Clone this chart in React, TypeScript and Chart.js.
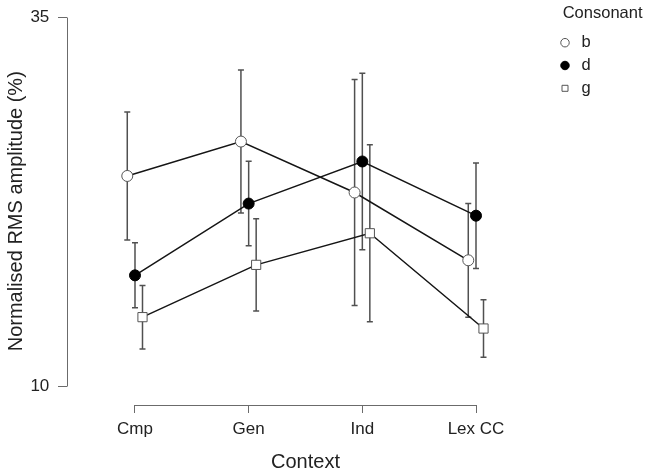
import React, { useEffect, useRef } from 'react';
import { Chart, registerables } from 'chart.js';

Chart.register(...registerables);

// ---- data ----
const categories = ['Cmp', 'Gen', 'Ind', 'Lex CC'];
const seriesLabels = ['b', 'd', 'g'];
const bMeans = [24.27, 26.6, 23.15, 18.56];
const bErrors = [4.33, 4.84, 7.65, 3.85];
const dMeans = [17.54, 22.4, 25.25, 21.58];
const dErrors = [2.2, 2.86, 5.98, 3.57];
const gMeans = [14.71, 18.25, 20.39, 13.94];
const gErrors = [2.15, 3.13, 5.99, 1.94];
const yTickValues = [10, 35];

const means = [bMeans, dMeans, gMeans];
const errors = [bErrors, dErrors, gErrors];

// ---- layout / style ----
const dodge = [-0.068, 0, 0.066];
const X_MIN = 0.4018;
const X_MAX = 4.5982;
const Y_MIN = 8.761;
const Y_MAX = 35;
const LEGEND_W = 117.2;
const FONT = "'Liberation Sans', Arial, sans-serif";
const TEXT = '#222222';
const AXIS = '#6b6b6b';
const ERR = '#505050';
const LINE = '#151515';

const pointStyles = ['circle', 'circle', 'rect'];
const pointFills = ['#ffffff', '#000000', '#ffffff'];
const pointBorders = ['#555555', '#000000', '#555555'];
const pointRadii = [5.5, 5.5, 6.5];

const align = (p: number) => Math.round(p - 0.5) + 0.5;

const legendWidthPlugin = {
  id: 'legendWidthPlugin',
  beforeLayout(chart: any) {
    const lg = chart.legend;
    if (lg && !lg.__fixedWidth) {
      const orig = lg.fit;
      lg.fit = function (this: any) {
        orig.call(this);
        this.width = LEGEND_W;
      };
      lg.__fixedWidth = true;
    }
  },
};

const rAxesAndErrorBars = {
  id: 'rAxesAndErrorBars',
  beforeDatasetsDraw(chart: any) {
    const { ctx, chartArea, scales } = chart;
    const xs = scales.x;
    const ys = scales.y;
    ctx.save();
    ctx.strokeStyle = AXIS;
    ctx.lineWidth = 1;
    ctx.beginPath();
    const ax = align(chartArea.left);
    ctx.moveTo(ax, align(ys.getPixelForValue(yTickValues[0])));
    ctx.lineTo(ax, align(ys.getPixelForValue(yTickValues[yTickValues.length - 1])));
    const ay = align(chartArea.bottom);
    ctx.moveTo(align(xs.getPixelForValue(1)), ay);
    ctx.lineTo(align(xs.getPixelForValue(categories.length)), ay);
    ctx.stroke();

    ctx.strokeStyle = ERR;
    ctx.lineWidth = 1.5;
    const cap = 3;
    means.forEach((m, k) => {
      m.forEach((v, i) => {
        const px = xs.getPixelForValue(i + 1 + dodge[k]);
        const top = ys.getPixelForValue(v + errors[k][i]);
        const bot = ys.getPixelForValue(v - errors[k][i]);
        ctx.beginPath();
        ctx.moveTo(px, top);
        ctx.lineTo(px, bot);
        ctx.moveTo(px - cap, top);
        ctx.lineTo(px + cap, top);
        ctx.moveTo(px - cap, bot);
        ctx.lineTo(px + cap, bot);
        ctx.stroke();
      });
    });
    ctx.restore();
  },
};

export default function App() {
  const ref = useRef<HTMLCanvasElement | null>(null);

  useEffect(() => {
    if (!ref.current) return;
    Chart.defaults.font.family = FONT;
    Chart.defaults.color = TEXT;

    const datasets = means.map((m, k) => ({
      label: seriesLabels[k],
      data: m.map((v, i) => ({ x: i + 1 + dodge[k], y: v })),
      showLine: true,
      borderColor: LINE,
      borderWidth: 1.5,
      backgroundColor: pointFills[k],
      pointStyle: pointStyles[k],
      pointRadius: pointRadii[k],
      pointBackgroundColor: pointFills[k],
      pointBorderColor: pointBorders[k],
      pointBorderWidth: 1,
      tension: 0,
    }));

    const chart = new Chart(ref.current, {
      type: 'line',
      data: { datasets },
      plugins: [legendWidthPlugin, rAxesAndErrorBars],
      options: {
        animation: false,
        responsive: true,
        maintainAspectRatio: false,
        layout: { padding: { top: 0, left: 0, right: 648 - 544 - LEGEND_W, bottom: 0 } },
        plugins: {
          tooltip: { enabled: false },
          legend: {
            position: 'right',
            align: 'start',
            title: {
              display: true,
              text: 'Consonant',
              position: 'center',
              color: TEXT,
              font: { size: 16.5, family: FONT },
              padding: { top: 5.25, bottom: -3.35 },
            },
            labels: {
              usePointStyle: true,
              boxHeight: 6,
              padding: 12.75,
              color: TEXT,
              font: { size: 16.5, family: FONT, lineHeight: 0.609 },
              generateLabels: (c: any) => {
                const base = (Chart.defaults.plugins.legend.labels as any).generateLabels(c);
                return base.map((it: any) => ({ ...it, text: [it.text] }));
              },
            },
          },
        },
        scales: {
          x: {
            type: 'linear',
            min: X_MIN,
            max: X_MAX,
            afterBuildTicks: (s: any) => {
              s.ticks = categories.map((_, i) => ({ value: i + 1 }));
            },
            afterFit: (s: any) => {
              s.height = 67;
            },
            grid: { display: true, drawOnChartArea: false, drawTicks: true, tickLength: 8, color: AXIS, lineWidth: 1 },
            border: { display: false },
            ticks: {
              color: TEXT,
              padding: 6.3,
              maxRotation: 0,
              autoSkip: false,
              font: { size: 17, family: FONT },
              callback: (v: any) => categories[Math.round(Number(v)) - 1] ?? '',
            },
            title: {
              display: true,
              text: 'Context',
              color: TEXT,
              font: { size: 20, family: FONT },
              padding: { top: 0, bottom: -2.3 },
            },
          },
          y: {
            type: 'linear',
            min: Y_MIN,
            max: Y_MAX,
            afterBuildTicks: (s: any) => {
              s.ticks = yTickValues.map((v) => ({ value: v }));
            },
            afterFit: (s: any) => {
              s.width = 67;
              s.paddingTop = 17.5;
              s.paddingBottom = 0;
            },
            grid: { display: true, drawOnChartArea: false, drawTicks: true, tickLength: 9, color: AXIS, lineWidth: 1 },
            border: { display: false },
            ticks: {
              color: TEXT,
              padding: 8.7,
              font: { size: 17, family: FONT },
              callback: (v: any) => String(v),
            },
            title: {
              display: true,
              text: 'Normalised RMS amplitude (%)',
              color: TEXT,
              font: { size: 20, family: FONT },
              padding: { top: 4.7, bottom: 0 },
            },
          },
        },
      },
    });
    return () => chart.destroy();
  }, []);

  return (
    <div style={{ position: 'fixed', left: 0, top: 0, width: 648, height: 472, background: '#fff' }}>
      <canvas ref={ref} />
    </div>
  );
}
